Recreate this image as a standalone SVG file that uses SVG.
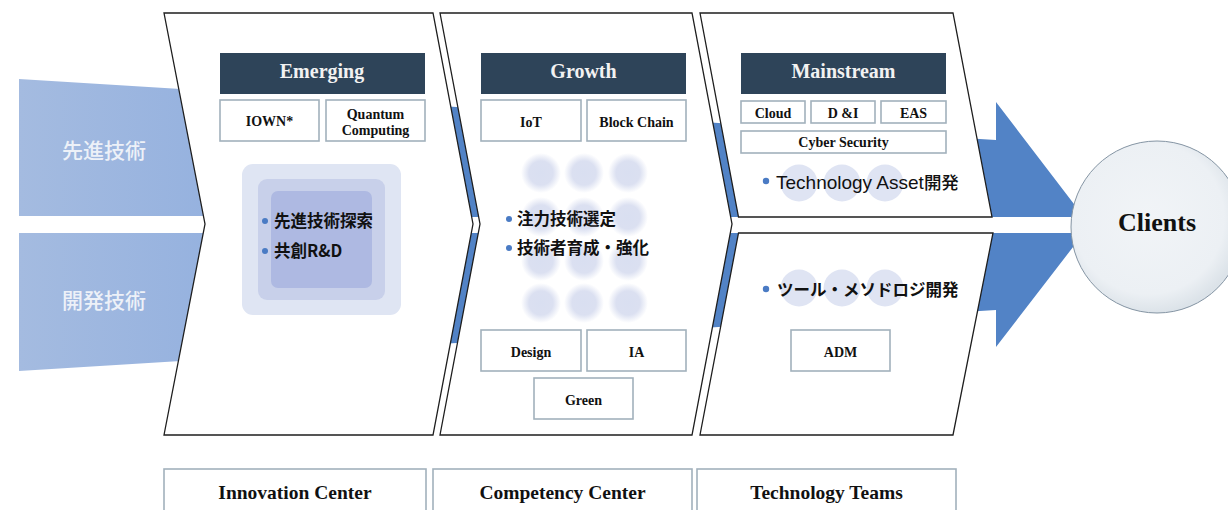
<svg xmlns="http://www.w3.org/2000/svg" width="1228" height="510" viewBox="0 0 1228 510">
<style>
.panel{fill:#fff;stroke:#1e1e1e;stroke-width:1.3}
.hdr{fill:#2e4459}
.hdrt{font-family:"Liberation Serif",serif;font-weight:bold;font-size:20px;fill:#f2f2f2;text-anchor:middle}
.box{fill:#fff;stroke:#a2b1bc;stroke-width:1.6}
.bt{font-family:"Liberation Serif",serif;font-weight:bold;font-size:14px;fill:#111;text-anchor:middle}
.lbl{font-family:"Liberation Serif",serif;font-weight:bold;font-size:19.5px;fill:#111;text-anchor:middle}
.jp{font-family:"Noto Sans CJK JP",sans-serif;font-weight:bold;font-size:16.5px;fill:#111}
.side{font-family:"Noto Sans CJK JP",sans-serif;font-weight:500;font-size:21px;fill:#edf1f8;text-anchor:middle}
.dot{fill:#4a7bc4}
.sc{fill:#dfe4f3}
.bc{fill:url(#blur)}
</style>
<defs>
<linearGradient id="lg" x1="19" y1="0" x2="205" y2="0" gradientUnits="userSpaceOnUse">
<stop offset="0" stop-color="#a4bbe0"/><stop offset="1" stop-color="#96b2df"/>
</linearGradient>
<radialGradient id="blur">
<stop offset="0" stop-color="#d9dff1"/><stop offset="0.6" stop-color="#dbe0f1"/><stop offset="1" stop-color="#dbe0f1" stop-opacity="0"/>
</radialGradient>
<radialGradient id="cg" cx="0.45" cy="0.45" r="0.55">
<stop offset="0" stop-color="#f1f4f7"/><stop offset="0.8" stop-color="#ecf0f4"/><stop offset="1" stop-color="#dce3e9"/>
</radialGradient>
</defs>

<g id="connectors">
<polygon points="300,97.5 996,140 996,102 1090,225 996,347 996,310 300,352.5" fill="#5283c6"/>
<rect x="0" y="217" width="1080" height="16" fill="#fff"/>
</g>

<g id="side-sentan">
<polygon points="19,79 205,90.5 205,216 19,216" fill="url(#lg)"/>
<text class="side" x="104" y="158">先進技術</text>
</g>
<g id="side-kaihatsu">
<polygon points="19,233 205,233 205,359.5 19,371" fill="url(#lg)"/>
<text class="side" x="104" y="308">開発技術</text>
</g>

<g id="panel-innovation">
<polygon class="panel" points="164,13 433,13 473,224 433,435 164,435 205,224"/>
<rect class="hdr" x="220" y="53" width="205" height="41"/>
<text class="hdrt" x="322" y="78">Emerging</text>
<rect class="box" x="220" y="100" width="99" height="41"/>
<text class="bt" x="269.5" y="126">IOWN*</text>
<rect class="box" x="326" y="100" width="99" height="41"/>
<text class="bt" x="375.5" y="119">Quantum</text>
<text class="bt" x="375.5" y="135">Computing</text>
<rect x="242" y="164" width="159" height="151" rx="11" fill="#dfe5f3"/>
<rect x="258" y="179" width="127" height="121" rx="9" fill="#c8d0ea"/>
<rect x="271" y="191" width="101" height="97" rx="7" fill="#aeb9e2"/>
<circle class="dot" cx="265" cy="221" r="3"/>
<text class="jp" x="274" y="227">先進技術探索</text>
<circle class="dot" cx="265" cy="251" r="3"/>
<text class="jp" x="274" y="257">共創R&amp;D</text>
</g>

<g id="panel-competency">
<polygon class="panel" points="440,13 692,13 732,224 692,435 440,435 480,224"/>
<rect class="hdr" x="481" y="53" width="205" height="41"/>
<text class="hdrt" x="583.5" y="78">Growth</text>
<rect class="box" x="481" y="100" width="100" height="41"/>
<text class="bt" x="531" y="127">IoT</text>
<rect class="box" x="587" y="100" width="99" height="41"/>
<text class="bt" x="636.5" y="127">Block Chain</text>
<circle class="bc" cx="541" cy="173" r="20"/><circle class="bc" cx="584" cy="173" r="20"/><circle class="bc" cx="628" cy="173" r="20"/>
<circle class="bc" cx="541" cy="217" r="20"/><circle class="bc" cx="584" cy="217" r="20"/><circle class="bc" cx="628" cy="217" r="20"/>
<circle class="bc" cx="541" cy="261" r="20"/><circle class="bc" cx="584" cy="261" r="20"/><circle class="bc" cx="628" cy="261" r="20"/>
<circle class="bc" cx="541" cy="303" r="20"/><circle class="bc" cx="584" cy="303" r="20"/><circle class="bc" cx="628" cy="303" r="20"/>
<circle class="dot" cx="509" cy="219" r="3"/>
<text class="jp" x="517" y="225">注力技術選定</text>
<circle class="dot" cx="509" cy="248" r="3"/>
<text class="jp" x="517" y="254">技術者育成・強化</text>
<rect class="box" x="481" y="330" width="100" height="41"/>
<text class="bt" x="531" y="357">Design</text>
<rect class="box" x="587" y="330" width="99" height="41"/>
<text class="bt" x="636.5" y="357">IA</text>
<rect class="box" x="534" y="378" width="99" height="41"/>
<text class="bt" x="583.5" y="405">Green</text>
</g>

<g id="panel-technology-top">
<polygon class="panel" points="700,13 953,13 992,217 738.5,217"/>
<rect class="hdr" x="741" y="53" width="205" height="41"/>
<text class="hdrt" x="843.5" y="78">Mainstream</text>
<rect class="box" x="741" y="101" width="64" height="22"/>
<text class="bt" x="773" y="118">Cloud</text>
<rect class="box" x="811" y="101" width="64" height="22"/>
<text class="bt" x="843" y="118">D &amp;I</text>
<rect class="box" x="881" y="101" width="65" height="22"/>
<text class="bt" x="913.5" y="118">EAS</text>
<rect class="box" x="741" y="131" width="205" height="22"/>
<text class="bt" x="843.5" y="147">Cyber Security</text>
<circle class="sc" cx="799" cy="183" r="18.5"/><circle class="sc" cx="842" cy="183" r="18.5"/><circle class="sc" cx="885" cy="183" r="18.5"/>
<circle class="dot" cx="766" cy="181" r="3.2"/>
<text x="776" y="189" style="font-family:'Liberation Sans','Noto Sans CJK JP',sans-serif;font-size:19px;fill:#111">Technology Asset<tspan style="font-family:'Noto Sans CJK JP',sans-serif;font-weight:500;font-size:17.5px">開発</tspan></text>
</g>

<g id="panel-technology-bottom">
<polygon class="panel" points="738.5,233 993,233 953,435 700,435"/>
<circle class="sc" cx="799" cy="288" r="18.5"/><circle class="sc" cx="842" cy="288" r="18.5"/><circle class="sc" cx="885" cy="288" r="18.5"/>
<circle class="dot" cx="766" cy="289" r="3.2"/>
<text class="jp" x="777" y="296">ツール・メソドロジ開発</text>
<rect class="box" x="791" y="330" width="99" height="41"/>
<text class="bt" x="840.5" y="357">ADM</text>
</g>

<g id="clients">
<circle cx="1157" cy="227" r="86" fill="url(#cg)" stroke="#8494a3" stroke-width="1"/>
<text x="1157" y="231" style="font-family:'Liberation Serif',serif;font-weight:bold;font-size:26px;fill:#111;text-anchor:middle">Clients</text>
</g>

<g id="label-innovation">
<rect class="box" x="164" y="469" width="262" height="50"/>
<text class="lbl" x="295" y="499">Innovation Center</text>
</g>
<g id="label-competency">
<rect class="box" x="433" y="469" width="259" height="50"/>
<text class="lbl" x="562.5" y="499">Competency Center</text>
</g>
<g id="label-technology">
<rect class="box" x="697" y="469" width="259" height="50"/>
<text class="lbl" x="826.5" y="499">Technology Teams</text>
</g>
</svg>
